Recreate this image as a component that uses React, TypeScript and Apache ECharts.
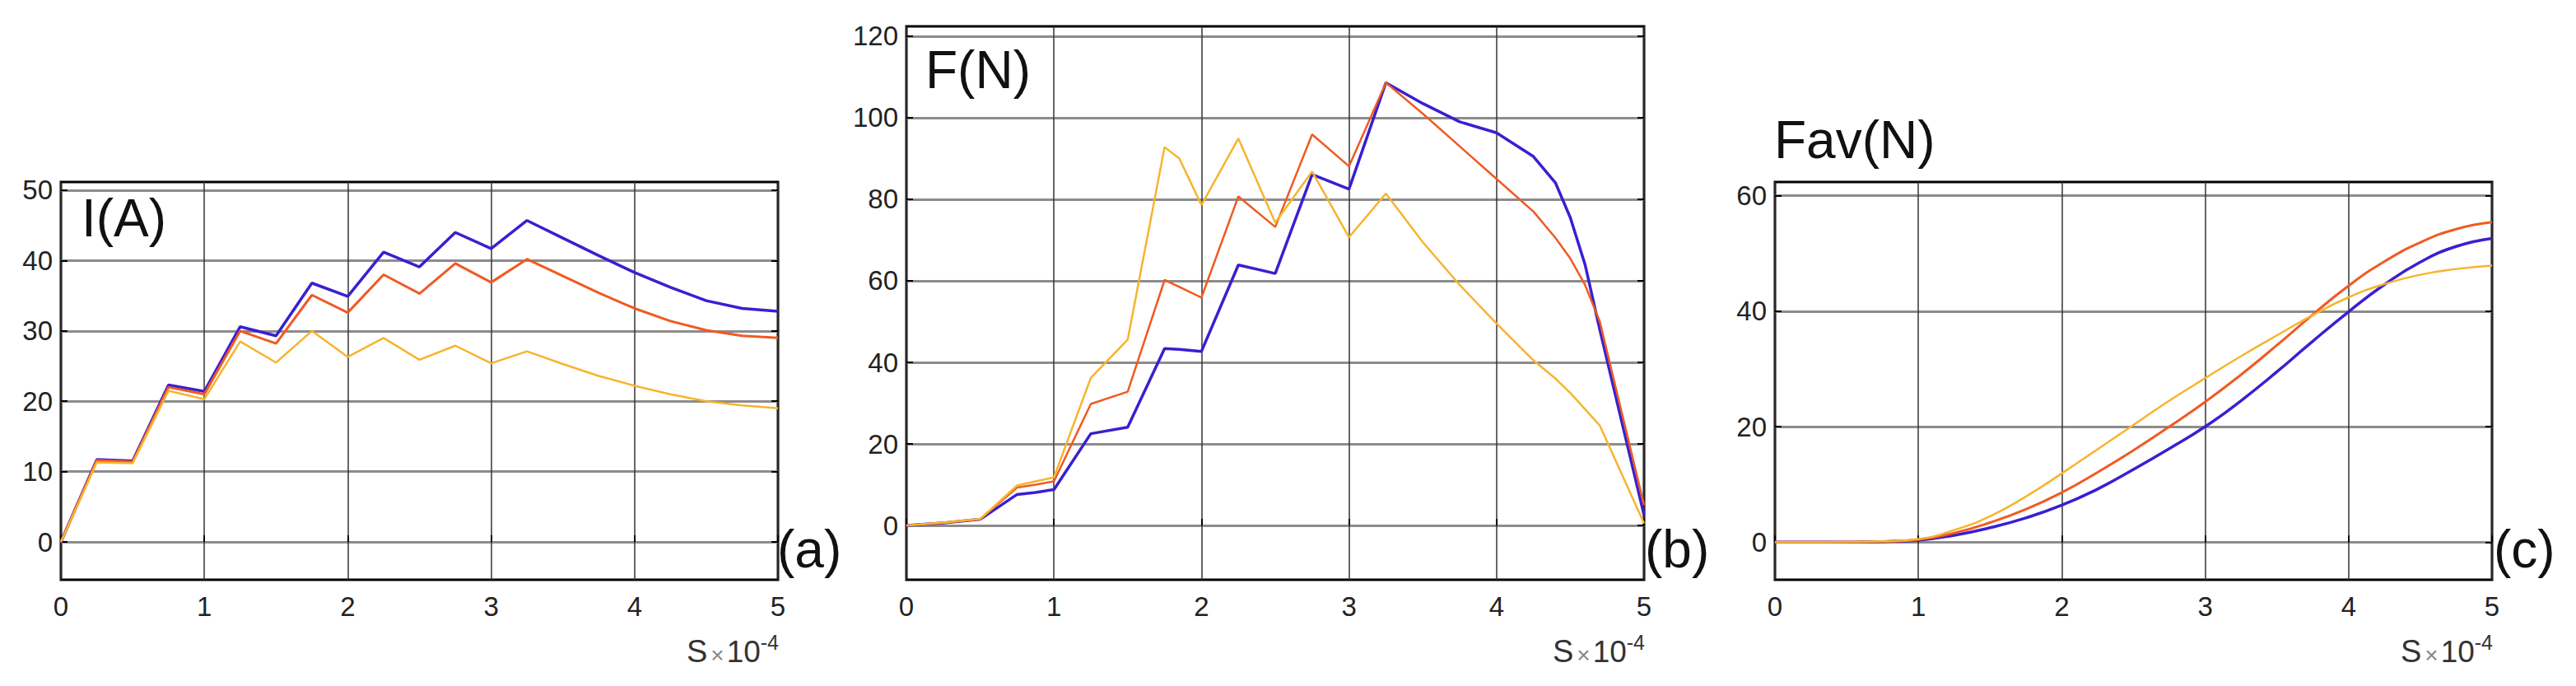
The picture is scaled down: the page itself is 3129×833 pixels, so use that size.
import React, { useEffect, useRef } from "react";
import * as echarts from "echarts";

// ---- data (x in units of 1e-4) ----
const xTicks = [0, 1, 2, 3, 4, 5];

const xCurrent = [0, 0.25, 0.5, 0.75, 1, 1.25, 1.5, 1.75, 2, 2.25, 2.5, 2.75, 3, 3.25, 3.5, 3.75, 4, 4.25, 4.5, 4.75, 5];
const currentBlue = [0, 11.7, 11.5, 22.3, 21.4, 30.6, 29.3, 36.8, 34.9, 41.2, 39.1, 44.0, 41.7, 45.7, 43.2, 40.7, 38.3, 36.2, 34.3, 33.2, 32.8];
const currentOrange = [0, 11.6, 11.4, 22.0, 21.0, 30.0, 28.2, 35.1, 32.6, 38.0, 35.3, 39.6, 36.9, 40.2, 37.8, 35.4, 33.2, 31.4, 30.1, 29.3, 29.0];
const currentYellow = [0, 11.3, 11.2, 21.5, 20.3, 28.5, 25.5, 30.0, 26.3, 29.0, 25.9, 27.9, 25.4, 27.1, 25.3, 23.6, 22.2, 21.0, 20.0, 19.4, 19.0];

const xForce = [0, 0.25, 0.5, 0.75, 0.875, 1, 1.25, 1.5, 1.75, 1.85, 2, 2.25, 2.5, 2.75, 3, 3.25, 3.5, 3.75, 4, 4.25, 4.4, 4.5, 4.6, 4.7, 5];
const forceBlue = [0, 0.6, 1.5, 7.6, 8.1, 8.8, 22.5, 24.1, 43.4, 43.2, 42.7, 63.9, 61.8, 86.1, 82.5, 108.6, 103.5, 99.0, 96.3, 90.5, 84.0, 75.5, 64.0, 48.0, 2.5];
const forceOrange = [0, 0.6, 1.5, 9.3, 10.0, 10.8, 29.8, 32.8, 60.2, 58.5, 55.9, 80.7, 73.2, 95.9, 88.1, 108.6, 101.0, 93.0, 85.0, 77.0, 70.5, 65.5, 59.0, 50.0, 5.0];
const forceYellow = [0, 0.7, 1.6, 9.8, 10.8, 11.8, 36.2, 45.6, 92.8, 90.0, 78.6, 94.9, 74.3, 86.8, 70.7, 81.4, 69.5, 59.0, 49.5, 40.5, 36.0, 32.5, 28.5, 24.5, 0.5];

const xFav = [0, 0.25, 0.5, 0.75, 1, 1.25, 1.5, 1.75, 2, 2.25, 2.5, 2.75, 3, 3.25, 3.5, 3.75, 4, 4.25, 4.5, 4.75, 5];
const favBlue = [0, 0, 0.02, 0.1, 0.35, 1.2, 2.5, 4.2, 6.4, 9.2, 12.6, 16.2, 20.0, 24.5, 29.5, 34.8, 39.9, 44.6, 48.5, 51.2, 52.6];
const favOrange = [0, 0, 0.03, 0.12, 0.45, 1.6, 3.4, 5.7, 8.6, 12.1, 15.9, 20.0, 24.3, 29.0, 34.1, 39.4, 44.4, 48.6, 51.9, 54.2, 55.4];
const favYellow = [0, 0, 0.04, 0.15, 0.55, 2.1, 4.5, 7.9, 11.9, 16.1, 20.3, 24.5, 28.4, 32.2, 35.8, 39.3, 42.4, 44.7, 46.3, 47.3, 47.9];

const yTicksCurrent = [0, 10, 20, 30, 40, 50];
const yTicksForce = [0, 20, 40, 60, 80, 100, 120];
const yTicksFav = [0, 20, 40, 60];

const panelTitles = ["I(A)", "F(N)", "Fav(N)"];
const panelTags = ["(a)", "(b)", "(c)"];
const xAxisName = "{s|S}{x|×}{n|10}{e|-4}";

// ---- styles ----
const BLUE = "#3a1fd0";
const ORANGE = "#f05a22";
const YELLOW = "#f6b42e";
const FONT = "'Liberation Sans', Arial, sans-serif";

const pairs = (xs: number[], ys: number[]) => xs.map((x, i) => [x, ys[i]]);

const grids = [
  { left: 74, top: 221, width: 871, height: 483 },
  { left: 1101, top: 32, width: 896, height: 672 },
  { left: 2156, top: 221, width: 871, height: 483 },
];
const yRanges = [
  { min: -5.38, max: 51.17, ticks: yTicksCurrent },
  { min: -13.33, max: 122.42, ticks: yTicksForce },
  { min: -6.51, max: 62.36, ticks: yTicksFav },
];

function buildOption() {
  const grid = grids.map((g) => ({
    ...g,
    show: true,
    borderColor: "#000",
    borderWidth: 3,
    backgroundColor: "#fff",
    containLabel: false,
  }));

  const xAxis = grids.map((_, i) => ({
    type: "value",
    gridIndex: i,
    min: 0,
    max: 5,
    interval: 1,
    axisLine: { show: false },
    axisTick: { show: true, inside: true, length: 8, lineStyle: { color: "#000", width: 2 } },
    axisLabel: {
      fontSize: 33,
      fontFamily: FONT,
      color: "#222",
      margin: 16,
      formatter: (v: number) => (xTicks.includes(v) ? String(v) : ""),
    },
    splitLine: { show: true, lineStyle: { color: "#333", width: 1.5 } },
  }));

  const yAxisLeft = yRanges.map((r, i) => ({
    type: "value",
    gridIndex: i,
    min: r.min,
    max: r.max,
    axisLine: { show: false },
    axisTick: { show: true, inside: true, length: 8, customValues: r.ticks, lineStyle: { color: "#000", width: 2 } },
    axisLabel: { customValues: r.ticks, fontSize: 33, fontFamily: FONT, color: "#222", margin: 10 },
    splitLine: { show: true, lineStyle: { color: "#8c8c8c", width: 3 } },
  }));
  const yAxisRight = yRanges.map((r, i) => ({
    type: "value",
    gridIndex: i,
    position: "right",
    min: r.min,
    max: r.max,
    axisLine: { show: false },
    axisTick: { show: true, inside: true, length: 8, customValues: r.ticks, lineStyle: { color: "#000", width: 2 } },
    axisLabel: { show: false, customValues: r.ticks },
    splitLine: { show: false },
  }));

  const mk = (name: string, xs: number[], ys: number[], color: string, width: number, gi: number, smooth = false) => ({
    type: "line",
    name,
    xAxisIndex: gi,
    yAxisIndex: gi,
    data: pairs(xs, ys),
    showSymbol: false,
    smooth,
    lineStyle: { color, width },
    itemStyle: { color },
    z: 3,
  });

  const series = [
    mk("I blue", xCurrent, currentBlue, BLUE, 3.5, 0),
    mk("I orange", xCurrent, currentOrange, ORANGE, 3, 0),
    mk("I yellow", xCurrent, currentYellow, YELLOW, 2.5, 0),
    mk("F blue", xForce, forceBlue, BLUE, 3.5, 1),
    mk("F orange", xForce, forceOrange, ORANGE, 2.5, 1),
    mk("F yellow", xForce, forceYellow, YELLOW, 2.5, 1),
    mk("Fav blue", xFav, favBlue, BLUE, 3.5, 2, true),
    mk("Fav orange", xFav, favOrange, ORANGE, 3, 2, true),
    mk("Fav yellow", xFav, favYellow, YELLOW, 2.5, 2, true),
  ];

  const bigText = (text: string, x: number, y: number) => ({
    type: "text",
    x,
    y,
    z: 10,
    style: { text, fontSize: 64, fontFamily: FONT, fill: "#111", align: "left", verticalAlign: "middle" },
  });

  const nameText = (x: number) => ({
    type: "text",
    x,
    y: 791,
    z: 10,
    style: {
      text: xAxisName,
      align: "right",
      verticalAlign: "middle",
      fontFamily: FONT,
      rich: {
        s: { fontSize: 38, fontFamily: FONT, fill: "#333", lineHeight: 40 },
        x: { fontSize: 28, fontFamily: FONT, fill: "#888", lineHeight: 32, padding: [8, 3, 0, 4] },
        n: { fontSize: 37, fontFamily: FONT, fill: "#333", lineHeight: 40 },
        e: { fontSize: 25, fontFamily: FONT, fill: "#333", lineHeight: 18, padding: [0, 0, 22, 0] },
      },
    },
  });

  const graphic = [
    bigText(panelTitles[0], 99, 265),
    bigText(panelTitles[1], 1124, 85),
    bigText(panelTitles[2], 2155, 170),
    bigText(panelTags[0], 944, 667),
    bigText(panelTags[1], 1998, 667),
    bigText(panelTags[2], 3029, 667),
    nameText(946),
    nameText(1998),
    nameText(3028),
  ];

  return {
    animation: false,
    backgroundColor: "#fff",
    grid,
    xAxis,
    yAxis: [...yAxisLeft, ...yAxisRight],
    series,
    graphic,
  };
}

export default function App() {
  const ref = useRef<HTMLDivElement>(null);
  useEffect(() => {
    document.body.style.margin = "0";
    if (!ref.current) return;
    const chart = echarts.init(ref.current, undefined, { renderer: "svg" });
    chart.setOption(buildOption() as any);
    return () => chart.dispose();
  }, []);
  return <div ref={ref} style={{ width: 3129, height: 833 }} />;
}
